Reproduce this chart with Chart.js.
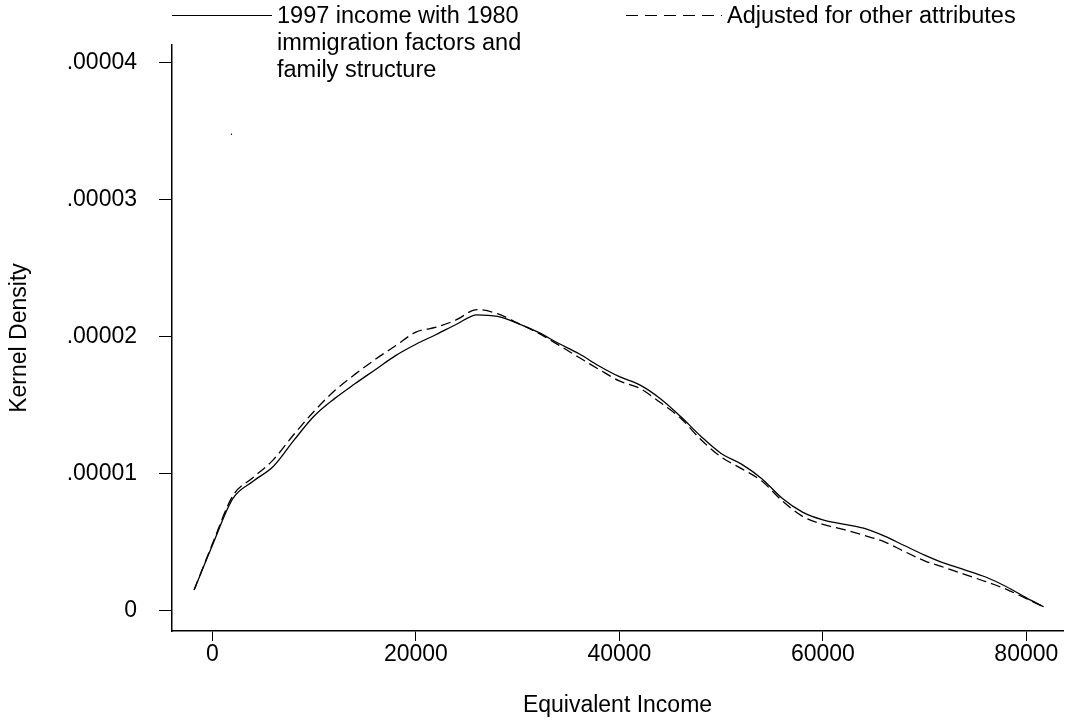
<!DOCTYPE html>
<html><head><meta charset="utf-8">
<script src="https://cdn.jsdelivr.net/npm/chart.js@4"></script>
<style>html,body{margin:0;padding:0;background:#fff}#wrap{width:1067px;height:723px}</style>
</head><body><div id="wrap"><canvas id="c" width="1067" height="723"></canvas></div>
<script>
// ---- data ----
const incomeGrid = [-1800, 0, 2000, 4000, 6000, 8000, 10000, 12000, 14000, 16000, 18000, 20000,
  22000, 24000, 26000, 28000, 30000, 32000, 34000, 36000, 38000, 40000, 42000, 44000, 46000,
  48000, 50000, 52000, 54000, 56000, 58000, 60000, 62000, 64000, 66000, 68000, 70000, 72000,
  74000, 76000, 78000, 80000, 81700];
const density1997 = [0.153e-5, 0.480e-5, 0.820e-5, 0.947e-5, 1.057e-5, 1.245e-5, 1.423e-5, 1.550e-5,
  1.658e-5, 1.761e-5, 1.864e-5, 1.947e-5, 2.018e-5, 2.093e-5, 2.162e-5, 2.150e-5, 2.100e-5,
  2.035e-5, 1.954e-5, 1.879e-5, 1.788e-5, 1.710e-5, 1.650e-5, 1.551e-5, 1.421e-5, 1.276e-5,
  1.150e-5, 1.072e-5, 0.966e-5, 0.823e-5, 0.722e-5, 0.665e-5, 0.634e-5, 0.604e-5, 0.548e-5,
  0.478e-5, 0.408e-5, 0.347e-5, 0.299e-5, 0.248e-5, 0.179e-5, 0.096e-5, 0.031e-5];
const densityAdjusted = [0.155e-5, 0.490e-5, 0.840e-5, 0.974e-5, 1.105e-5, 1.288e-5, 1.458e-5, 1.607e-5,
  1.727e-5, 1.836e-5, 1.936e-5, 2.035e-5, 2.071e-5, 2.126e-5, 2.200e-5, 2.170e-5, 2.101e-5,
  2.030e-5, 1.942e-5, 1.852e-5, 1.763e-5, 1.679e-5, 1.625e-5, 1.523e-5, 1.409e-5, 1.252e-5,
  1.124e-5, 1.039e-5, 0.948e-5, 0.805e-5, 0.691e-5, 0.632e-5, 0.596e-5, 0.553e-5, 0.506e-5,
  0.435e-5, 0.366e-5, 0.316e-5, 0.265e-5, 0.215e-5, 0.160e-5, 0.090e-5, 0.031e-5];
const strayX = [1870];
const strayY = [3.48e-5];
const xTickValues = [0, 20000, 40000, 60000, 80000];
const xTickLabels = ['0', '20000', '40000', '60000', '80000'];
const yTickValues = [0, 0.00001, 0.00002, 0.00003, 0.00004];
const yTickLabels = ['0', '.00001', '.00002', '.00003', '.00004'];
const seriesNames = [['1997 income with 1980', 'immigration factors and', 'family structure'],
                     ['Adjusted for other attributes']];
const xTitle = 'Equivalent Income';
const yTitle = 'Kernel Density';

// ---- chart ----
const FONT = '"Liberation Sans", Arial, sans-serif';
const toPts = (xs, ys) => xs.map((x, i) => ({x: x, y: ys[i]}));

const legendPlugin = {
  id: 'customLegend',
  afterDraw(chart) {
    const ctx = chart.ctx;
    ctx.save();
    ctx.fillStyle = '#000';
    ctx.strokeStyle = '#000';
    ctx.lineWidth = 1;
    ctx.font = '23.5px ' + FONT;
    ctx.textBaseline = 'alphabetic';
    // solid entry
    ctx.setLineDash([]);
    ctx.beginPath(); ctx.moveTo(172, 15.5); ctx.lineTo(272, 15.5); ctx.stroke();
    seriesNames[0].forEach((t, i) => ctx.fillText(t, 277, 23 + i * 27));
    // dashed entry
    ctx.setLineDash([12, 7]);
    ctx.beginPath(); ctx.moveTo(626, 15.5); ctx.lineTo(722, 15.5); ctx.stroke();
    ctx.setLineDash([]);
    seriesNames[1].forEach((t, i) => ctx.fillText(t, 727, 23 + i * 27));
    ctx.restore();
  }
};

new Chart(document.getElementById('c'), {
  type: 'line',
  data: {
    datasets: [
      {label: seriesNames[0].join(' '), data: toPts(incomeGrid, density1997),
       borderColor: '#000', borderWidth: 1.3, pointRadius: 0, fill: false,
       cubicInterpolationMode: 'monotone'},
      {label: seriesNames[1].join(' '), data: toPts(incomeGrid, densityAdjusted),
       borderColor: '#000', borderWidth: 1.3, borderDash: [10, 5], pointRadius: 0, fill: false,
       cubicInterpolationMode: 'monotone'},
      {label: 'dot', data: toPts(strayX, strayY), showLine: false,
       pointRadius: 0.7, pointBackgroundColor: '#000', pointBorderWidth: 0, borderColor: '#000'}
    ]
  },
  options: {
    responsive: false,
    animation: false,
    devicePixelRatio: 1,
    layout: {padding: {top: 45, right: 0, left: 0, bottom: 0}},
    plugins: {legend: {display: false}, tooltip: {enabled: false}},
    scales: {
      x: {
        type: 'linear',
        min: -3973, max: 83603,
        afterBuildTicks: s => { s.ticks = xTickValues.map(v => ({value: v})); },
        afterFit: s => { s.height = 92; },
        ticks: {
          callback: (v) => xTickLabels[xTickValues.indexOf(v)],
          color: '#000', font: {family: FONT, size: 23}, padding: 0, maxRotation: 0, autoSkip: false
        },
        grid: {display: true, drawOnChartArea: false, drawTicks: true, tickLength: 10, color: '#000', lineWidth: 1},
        border: {display: true, color: '#000', width: 1.5},
        title: {display: true, text: xTitle, color: '#000', font: {family: FONT, size: 23},
                padding: {top: 0, bottom: 4}}
      },
      y: {
        min: -0.146e-5, max: 4.131e-5,
        afterBuildTicks: s => { s.ticks = yTickValues.map(v => ({value: v})); },
        afterFit: s => { s.width = 172; },
        ticks: {
          callback: (v) => yTickLabels[yTickValues.indexOf(v)],
          color: '#000', font: {family: FONT, size: 23}, padding: 22, autoSkip: false
        },
        grid: {display: true, drawOnChartArea: false, drawTicks: true, tickLength: 13, color: '#000', lineWidth: 1},
        border: {display: true, color: '#000', width: 1.5},
        title: {display: true, text: yTitle, color: '#000', font: {family: FONT, size: 23},
                padding: {top: 6, bottom: 0}}
      }
    }
  },
  plugins: [legendPlugin]
});
</script>
</body></html>
